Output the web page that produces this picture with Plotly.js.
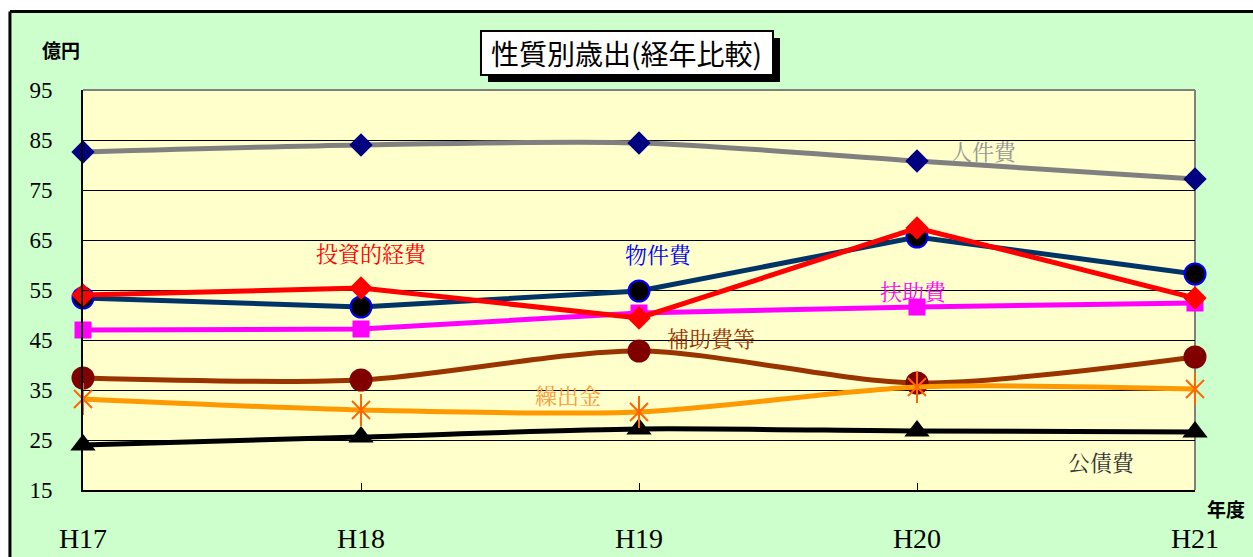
<!DOCTYPE html>
<html>
<head>
<meta charset="utf-8">
<script src="https://cdn.plot.ly/plotly-3.0.1.min.js"></script>
<style>html,body{margin:0;padding:0;background:#fff;}#chart{width:1253px;height:557px;}</style>
</head>
<body>
<div id="chart"></div>
<script>
// Data (億円)
var years = ['H17', 'H18', 'H19', 'H20', 'H21'];
var jinkenhi = [82.6, 84.0, 84.4, 80.8, 77.2];   // 人件費
var bukkenhi = [53.4, 51.6, 54.8, 65.6, 58.2];   // 物件費
var toushi = [54.0, 55.4, 49.4, 67.4, 53.4];     // 投資的経費
var fujo = [47.0, 47.2, 50.4, 51.6, 52.4];       // 扶助費
var hojo = [37.4, 37.0, 42.8, 36.4, 41.6];       // 補助費等
var kuridashi = [33.2, 31.0, 30.6, 35.6, 35.2];  // 繰出金
var kousai = [24.0, 25.6, 27.2, 26.8, 26.6];     // 公債費
var yTicks = [15, 25, 35, 45, 55, 65, 75, 85, 95];

var JP = '"Noto Serif CJK JP", "Noto Sans CJK JP", serif';
var JPS = '"Noto Sans CJK JP", sans-serif';
var SERIF = '"Liberation Serif", "DejaVu Serif", serif';

function tr(y, lineColor, shape, mk) {
  return {
    x: years, y: y, type: 'scatter', mode: 'lines+markers',
    line: {color: lineColor, width: 5, shape: shape, smoothing: 0.8},
    marker: mk, cliponaxis: false, hoverinfo: 'skip', showlegend: false
  };
}

var data = [
  tr(kousai, '#000000', 'spline', {symbol: 'triangle-up', size: 22, color: '#000000'}),
  tr(hojo, '#993300', 'spline', {symbol: 'circle', size: 23, color: '#800000'}),
  tr(kuridashi, '#FF9900', 'spline', {symbol: 'x-thin-open', size: 18, color: '#FF6600', line: {color: '#FF6600', width: 2}}),
  {x: years, y: kuridashi, type: 'scatter', mode: 'markers', cliponaxis: false, hoverinfo: 'skip', showlegend: false,
   marker: {symbol: 'line-ns-open', size: 23, color: '#FF6600', line: {color: '#FF6600', width: 2}}},
  tr(fujo, '#FF00FF', 'linear', {symbol: 'square', size: 17, color: '#FF00FF'}),
  tr(bukkenhi, '#003366', 'linear', {symbol: 'circle', size: 21, color: '#000000', line: {color: '#0000FF', width: 2}}),
  tr(toushi, '#FF0000', 'linear', {symbol: 'diamond', size: 18, color: '#FF0000'}),
  tr(jinkenhi, '#808080', 'spline', {symbol: 'diamond', size: 18, color: '#000080'})
];

function lab(text, x, y, color, size, fam) {
  return {text: text, xref: 'paper', yref: 'paper', x: x, y: y, showarrow: false,
          xanchor: 'center', yanchor: 'middle',
          font: {family: fam || JP, size: size || 22, color: color}};
}

var layout = {
  width: 1253, height: 557,
  margin: {l: 83, r: 58, t: 90, b: 67},
  paper_bgcolor: '#CCFFCC',
  plot_bgcolor: '#FFFFCC',
  showlegend: false,
  xaxis: {
    type: 'category', range: [0, 4], fixedrange: true,
    showgrid: false, zeroline: false,
    showline: true, linecolor: '#000000', linewidth: 2,
    ticks: 'inside', ticklen: 7, tickcolor: '#000000', tickwidth: 1,
    ticklabelstandoff: 22,
    tickfont: {family: SERIF, size: 28, color: '#000000'}
  },
  yaxis: {
    range: [15, 95], tickvals: yTicks, fixedrange: true,
    showgrid: true, gridcolor: '#000000', gridwidth: 1, zeroline: false,
    showline: true, linecolor: '#000000', linewidth: 2,
    ticks: 'inside', ticklen: 6, tickcolor: '#000000',
    ticklabelstandoff: 24,
    tickfont: {family: SERIF, size: 23, color: '#000000'}
  },
  shapes: [
    {type: 'rect', xref: 'paper', yref: 'paper', x0: -0.2, x1: 1.2, y0: 1.19625, y1: 1.4, fillcolor: '#FFFFFF', line: {width: 0}, layer: 'below'},
    {type: 'rect', xref: 'paper', yref: 'paper', x0: -0.2, x1: -0.0657, y0: -0.4, y1: 1.4, fillcolor: '#FFFFFF', line: {width: 0}, layer: 'below'},
    {type: 'line', xref: 'paper', yref: 'paper', x0: -0.0657, x1: 1.2, y0: 1.19625, y1: 1.19625, line: {color: '#000000', width: 3}, layer: 'below'},
    {type: 'line', xref: 'paper', yref: 'paper', x0: -0.0657, x1: -0.0657, y0: -0.4, y1: 1.19625, line: {color: '#000000', width: 3}, layer: 'below'},
    {type: 'line', xref: 'paper', yref: 'paper', x0: 1, x1: 1, y0: 0, y1: 1, line: {color: '#808080', width: 2}, layer: 'below'},
    {type: 'rect', xref: 'paper', yref: 'paper', x0: 0.3642, x1: 0.6268, y0: 1.02, y1: 1.13, fillcolor: '#000000', line: {width: 0}, layer: 'below'},
    {type: 'rect', xref: 'paper', yref: 'paper', x0: 0.3579, x1: 0.6205, y0: 1.0375, y1: 1.1475, fillcolor: '#FFFFFF', line: {color: '#000000', width: 2}, layer: 'below'},
    {type: 'line', xref: 'paper', yref: 'paper', x0: 0, x1: 1, y0: 1, y1: 1, line: {color: '#808080', width: 2}, layer: 'above'}
  ],
  annotations: [
    lab('性質別歳出(経年比較)', 0.4892, 1.0925, '#000000', 28, JPS),
    lab('<b>億円</b>', -0.0198, 1.1, '#000000', 19, JPS),
    lab('<b>年度</b>', 1.0279, -0.045, '#000000', 19, JPS),
    lab('人件費', 0.8094, 0.85, '#969696'),
    lab('投資的経費', 0.259, 0.595, '#FF0000'),
    lab('物件費', 0.5171, 0.5925, '#0000FF'),
    lab('扶助費', 0.7473, 0.5, '#FF00FF'),
    lab('補助費等', 0.5647, 0.3825, '#993300'),
    lab('繰出金', 0.4362, 0.24, '#FF9933'),
    lab('公債費', 0.9155, 0.0725, '#333333')
  ]
};

Plotly.newPlot('chart', data, layout, {displayModeBar: false, staticPlot: true});
</script>
</body>
</html>
